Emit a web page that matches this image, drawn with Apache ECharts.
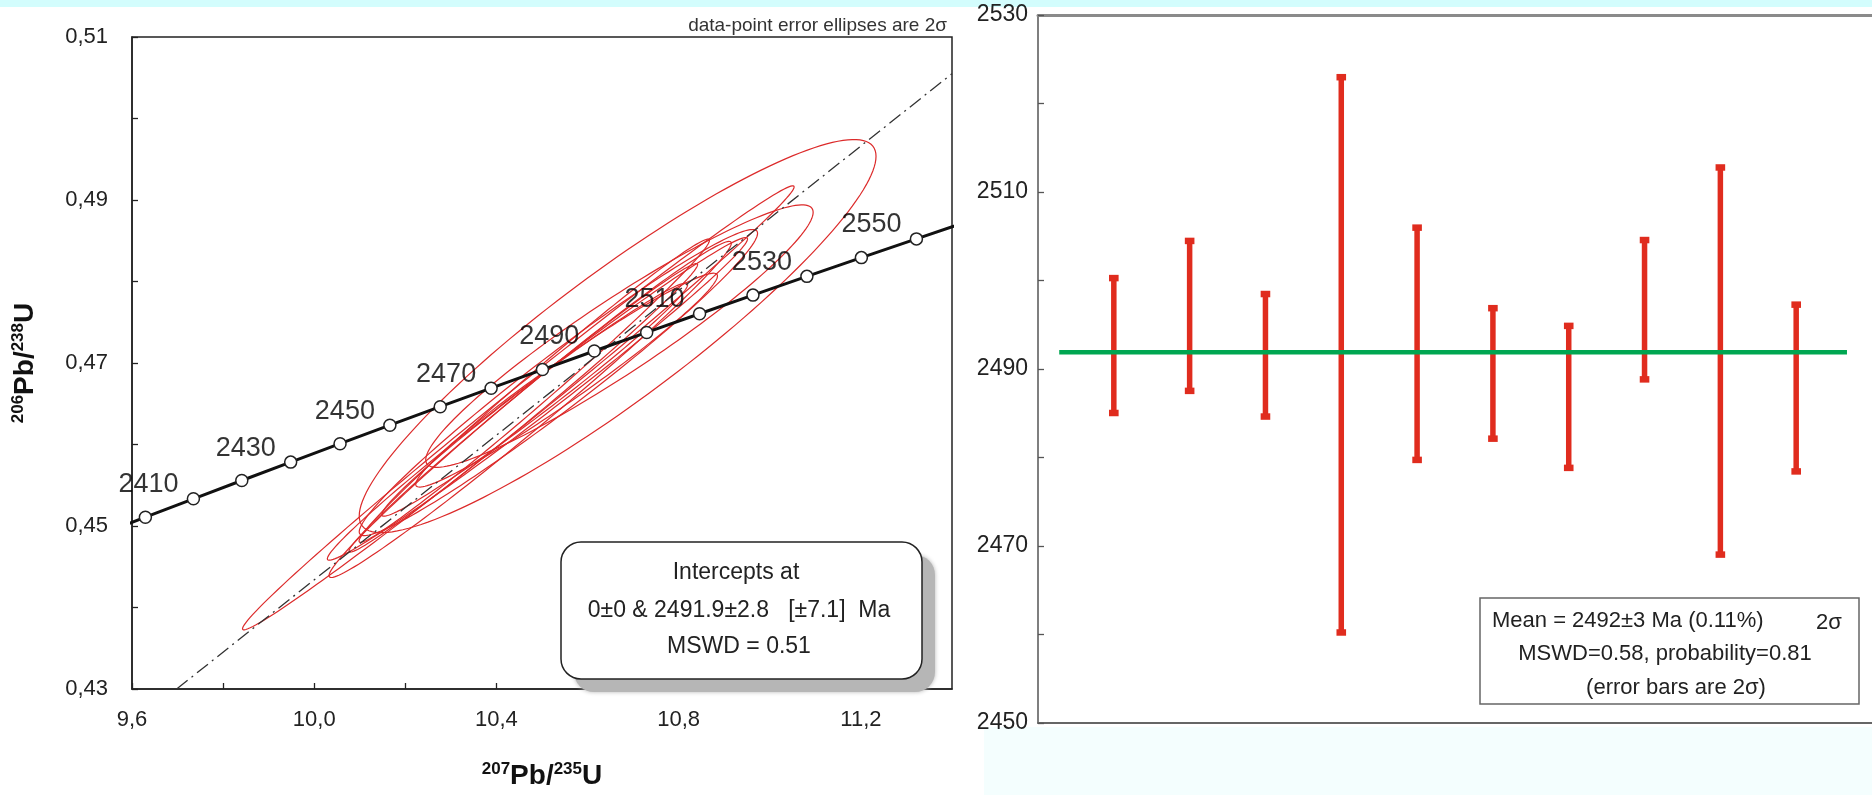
<!DOCTYPE html>
<html><head><meta charset="utf-8">
<script src="https://cdn.jsdelivr.net/npm/echarts@6/dist/echarts.min.js"></script>
<style>html,body{margin:0;padding:0;background:#fff;}#c{width:1872px;height:795px;}</style>
</head><body><div id="c"></div>
<script>
// ---- Concordia (ages in Ma and ratios) ----
var concAges = [2390,2400,2410,2420,2430,2440,2450,2460,2470,2480,2490,2500,2510,2520,2530,2540,2550,2560];
var concX = [9.5255,9.6294,9.7348,9.8410,9.9483,10.0567,10.1661,10.2766,10.3883,10.5010,10.6148,10.7298,10.8459,10.9631,11.0815,11.2011,11.3219,11.4439];
var concY = [0.44882,0.45108,0.45334,0.45558,0.45784,0.46010,0.46237,0.46464,0.46691,0.46919,0.47147,0.47375,0.47604,0.47833,0.48063,0.48293,0.48523,0.48753];
var markedAges = [2400,2410,2420,2430,2440,2450,2460,2470,2480,2490,2500,2510,2520,2530,2540,2550];
var labelledAges = [2410,2430,2450,2470,2490,2510,2530,2550];
// ---- Discordia (dash-dot) ----
var discX = [9.698, 11.4];
var discY = [0.43, 0.5055];
// ---- Error ellipses (centre, 1 sigma, correlation) ----
var ellCx  = [10.448, 10.666, 10.670, 10.490, 10.474, 10.459, 10.483, 10.484, 10.554, 10.536];
var ellCy  = [0.4645, 0.4733, 0.4733, 0.4656, 0.4643, 0.4645, 0.4666, 0.4655, 0.4679, 0.4676];
var ellSx  = [0.3027, 0.2836, 0.2126, 0.2306, 0.2208, 0.1913, 0.1923, 0.1678, 0.1656, 0.2186];
var ellSy  = [0.01362,0.01206,0.00805,0.00990,0.01031,0.00885,0.00930,0.00715,0.00656,0.00939];
var ellRho = [0.995, 0.9145, 0.943, 0.991, 0.989, 0.9926, 0.9917, 0.986, 0.974, 0.975];
// ---- Weighted mean plot ----
var barIdx  = [1,2,3,4,5,6,7,8,9,10];
var barLow  = [2485.0,2487.5,2484.6,2460.2,2479.7,2482.1,2478.8,2488.8,2469.0,2478.4];
var barHigh = [2500.3,2504.5,2498.5,2523.0,2506.0,2496.9,2494.9,2504.6,2512.8,2497.3];
var meanValue = 2491.9;
var meanLineX = [0.28, 10.67];
var leftXTicks = [9.6, 10.0, 10.4, 10.8, 11.2];
var leftYTicks = [0.43, 0.45, 0.47, 0.49, 0.51];
var rightYTicks = [2450, 2470, 2490, 2510, 2530];

var FONT = "'Liberation Sans', Arial, sans-serif";
var chart = echarts.init(document.getElementById('c'));

function near(arr, v){ for (var i=0;i<arr.length;i++){ if (Math.abs(arr[i]-v) < 1e-6) return true; } return false; }

var concPts = concX.map(function(x,i){ return [x, concY[i], concAges[i]]; });
var markedPts = concPts.filter(function(p){ return markedAges.indexOf(p[2]) >= 0; });
var labelPts = concPts.filter(function(p){ return labelledAges.indexOf(p[2]) >= 0; });

var option = {
  animation: false,
  backgroundColor: '#ffffff',
  textStyle: { fontFamily: FONT },
  grid: [
    { left: 132, top: 37, width: 820, height: 671, show: true, borderColor: '#222', borderWidth: 1.5, backgroundColor: '#fff' },
    { left: 1038, top: 15, right: -4, height: 708, show: false }
  ],
  xAxis: [
    { gridIndex: 0, type: 'value', min: 9.6, max: 11.4, interval: 0.2,
      axisLine: { lineStyle: { color: '#222', width: 1.5 } },
      axisTick: { inside: true, length: 6, lineStyle: { color: '#222', width: 1.3 } },
      splitLine: { show: false },
      axisLabel: { fontSize: 22, color: '#222', margin: 20, fontFamily: FONT, showMaxLabel: false,
        formatter: function(v){ return near(leftXTicks, v) ? v.toFixed(1).replace('.', ',') : ''; } },
      name: '{s|207}{b|Pb/}{s|235}{b|U}', nameLocation: 'middle', nameGap: 72,
      nameTextStyle: { rich: {
        s: { fontSize: 17, fontWeight: 'bold', color: '#111', fontFamily: FONT, verticalAlign: 'top', lineHeight: 30 },
        b: { fontSize: 28, fontWeight: 'bold', color: '#111', fontFamily: FONT, lineHeight: 30 } } }
    },
    { gridIndex: 1, type: 'value', min: 0, max: 11, position: 'bottom',
      axisLine: { lineStyle: { color: '#666', width: 2 } },
      axisTick: { show: false }, axisLabel: { show: false }, splitLine: { show: false } },
    { gridIndex: 1, type: 'value', min: 0, max: 11, position: 'top',
      axisLine: { lineStyle: { color: '#8a8a8a', width: 3 } },
      axisTick: { show: false }, axisLabel: { show: false }, splitLine: { show: false } }
  ],
  yAxis: [
    { gridIndex: 0, type: 'value', min: 0.43, max: 0.51, interval: 0.01,
      axisLine: { lineStyle: { color: '#222', width: 1.5 } },
      axisTick: { inside: true, length: 6, lineStyle: { color: '#222', width: 1.3 } },
      splitLine: { show: false },
      axisLabel: { fontSize: 22, color: '#222', margin: 24, fontFamily: FONT,
        formatter: function(v){ return near(leftYTicks, v) ? v.toFixed(2).replace('.', ',') : ''; } },
      name: '{s|206}{b|Pb/}{s|238}{b|U}', nameLocation: 'middle', nameGap: 92, nameRotate: 90,
      nameTextStyle: { rich: {
        s: { fontSize: 17, fontWeight: 'bold', color: '#111', fontFamily: FONT, verticalAlign: 'top', lineHeight: 30 },
        b: { fontSize: 28, fontWeight: 'bold', color: '#111', fontFamily: FONT, lineHeight: 30 } } }
    },
    { gridIndex: 1, type: 'value', min: 2450, max: 2530, interval: 10,
      axisLine: { lineStyle: { color: '#555', width: 1.5 } },
      axisTick: { inside: true, length: 6, lineStyle: { color: '#555', width: 1.3 } },
      splitLine: { show: false },
      axisLabel: { fontSize: 23, color: '#222', margin: 10, fontFamily: FONT,
        formatter: function(v){ return near(rightYTicks, v) ? String(v) : ''; } }
    }
  ],
  graphic: [
    { type: 'rect', z: -10, silent: true, shape: { x: 0, y: 0, width: 1872, height: 7 }, style: { fill: '#d3fdfd' } },
    { type: 'rect', z: -10, silent: true, shape: { x: 984, y: 727, width: 888, height: 68 }, style: { fill: '#f4fefe' } },
    { type: 'text', z: 50, style: { text: 'data-point error ellipses are 2σ', x: 947, y: 26, align: 'right', verticalAlign: 'middle', font: '19px ' + FONT, fill: '#333' } },
    { type: 'rect', z: 39, silent: true, shape: { x: 574, y: 555, width: 361, height: 137, r: 20 },
      style: { fill: '#b6b6b6', shadowColor: '#b6b6b6', shadowBlur: 4 } },
    { type: 'rect', z: 40, shape: { x: 561, y: 542, width: 361, height: 137, r: 20 },
      style: { fill: '#fff', stroke: '#222', lineWidth: 1.5 } },
    { type: 'text', z: 41, style: { text: 'Intercepts at', x: 736, y: 573, align: 'center', verticalAlign: 'middle', font: '23px ' + FONT, fill: '#222' } },
    { type: 'text', z: 41, style: { text: '0±0 & 2491.9±2.8   [±7.1]  Ma', x: 739, y: 611, align: 'center', verticalAlign: 'middle', font: '23px ' + FONT, fill: '#222' } },
    { type: 'text', z: 41, style: { text: 'MSWD = 0.51', x: 739, y: 647, align: 'center', verticalAlign: 'middle', font: '23px ' + FONT, fill: '#222' } },
    { type: 'rect', z: 40, shape: { x: 1480, y: 598, width: 379, height: 106 }, style: { fill: '#fff', stroke: '#666', lineWidth: 1.5 } },
    { type: 'text', z: 41, style: { text: 'Mean = 2492±3 Ma (0.11%)', x: 1492, y: 621, align: 'left', verticalAlign: 'middle', font: '22px ' + FONT, fill: '#222' } },
    { type: 'text', z: 41, style: { text: '2σ', x: 1816, y: 623, align: 'left', verticalAlign: 'middle', font: '22px ' + FONT, fill: '#222' } },
    { type: 'text', z: 41, style: { text: 'MSWD=0.58, probability=0.81', x: 1665, y: 654, align: 'center', verticalAlign: 'middle', font: '22px ' + FONT, fill: '#222' } },
    { type: 'text', z: 41, style: { text: '(error bars are 2σ)', x: 1676, y: 688, align: 'center', verticalAlign: 'middle', font: '22px ' + FONT, fill: '#222' } }
  ],
  series: [
    { type: 'custom', name: 'ellipses', xAxisIndex: 0, yAxisIndex: 0, z: 2,
      encode: { x: 0, y: 1 },
      data: ellCx.map(function(v,i){ return [v, ellCy[i], ellSx[i], ellSy[i], ellRho[i]]; }),
      renderItem: function(params, api){
        var cx = api.value(0), cy = api.value(1), sx = api.value(2), sy = api.value(3), r = api.value(4);
        var s = Math.sqrt(1 - r*r), pts = [];
        for (var k = 0; k < 160; k++) {
          var t = k / 160 * 2 * Math.PI;
          var dx = 2 * sx * Math.cos(t);
          var dy = 2 * sy * (r * Math.cos(t) + s * Math.sin(t));
          pts.push(api.coord([cx + dx, cy + dy]));
        }
        return { type: 'polygon', shape: { points: pts }, style: { fill: 'none', stroke: '#dc2a2a', lineWidth: 1.2 } };
      }
    },
    { type: 'line', name: 'discordia', xAxisIndex: 0, yAxisIndex: 0, z: 3, symbol: 'none', clip: true,
      data: discX.map(function(x,i){ return [x, discY[i]]; }),
      lineStyle: { color: '#333', width: 1.3, type: [14, 5, 2, 5] } },
    { type: 'line', name: 'concordia', xAxisIndex: 0, yAxisIndex: 0, z: 4, symbol: 'none', clip: true, smooth: false,
      data: concPts, lineStyle: { color: '#111', width: 3 } },
    { type: 'scatter', name: 'ticks', xAxisIndex: 0, yAxisIndex: 0, z: 5, symbol: 'circle', symbolSize: 12,
      data: markedPts, itemStyle: { color: '#fff', borderColor: '#222', borderWidth: 1.5, opacity: 1 } },
    { type: 'scatter', name: 'labels', xAxisIndex: 0, yAxisIndex: 0, z: 6, symbolSize: 0.1,
      data: labelPts, itemStyle: { color: 'rgba(0,0,0,0)' },
      label: { show: true, position: 'inside', offset: [-45, -14], fontSize: 27, color: '#000', fontFamily: FONT,
        formatter: function(p){ return String(p.value[2]); } } },
    { type: 'custom', name: 'errorbars', xAxisIndex: 1, yAxisIndex: 1, z: 5,
      encode: { x: 0, y: [1, 2] },
      data: barIdx.map(function(x,i){ return [x, barLow[i], barHigh[i]]; }),
      renderItem: function(params, api){
        var lo = api.coord([api.value(0), api.value(1)]);
        var hi = api.coord([api.value(0), api.value(2)]);
        var col = '#e02c1e';
        return { type: 'group', children: [
          { type: 'line', shape: { x1: hi[0], y1: hi[1], x2: lo[0], y2: lo[1] }, style: { stroke: col, lineWidth: 5.5 } },
          { type: 'rect', shape: { x: hi[0]-4.8, y: hi[1]-3, width: 9.6, height: 6.5 }, style: { fill: col } },
          { type: 'rect', shape: { x: lo[0]-4.8, y: lo[1]-3.5, width: 9.6, height: 6.5 }, style: { fill: col } }
        ] };
      }
    },
    { type: 'line', name: 'mean', xAxisIndex: 1, yAxisIndex: 1, z: 6, symbol: 'none',
      data: meanLineX.map(function(x){ return [x, meanValue]; }),
      lineStyle: { color: '#00a651', width: 4.5 } }
  ]
};
chart.setOption(option);
</script>
</body></html>
